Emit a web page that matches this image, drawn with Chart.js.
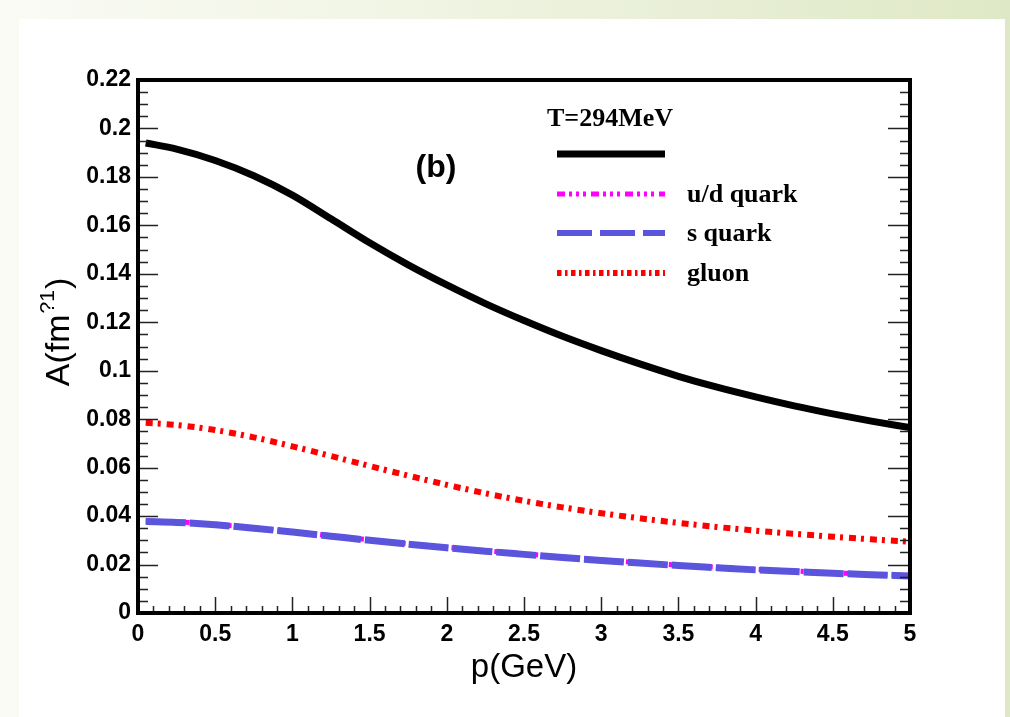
<!DOCTYPE html>
<html><head><meta charset="utf-8">
<script src="https://cdn.jsdelivr.net/npm/chart.js@4.4.0/dist/chart.umd.min.js"></script>
<style>
html,body{margin:0;padding:0;}
body{width:1010px;height:717px;overflow:hidden;position:relative;background:linear-gradient(90deg,#fafbf5 0%,#eff4e2 45%,#dfe8c6 100%);}
#panel{position:absolute;left:19px;top:19px;width:986px;height:698px;background:#fff;}
#wrap{position:absolute;left:0;top:0;width:1010px;height:717px;}
</style></head><body>
<div id="panel"></div>
<div id="wrap"><canvas id="c" width="1010" height="717"></canvas></div>
<script>
// ---- data ----
const pValues = [0.05,0.25,0.5,0.75,1,1.25,1.5,1.75,2,2.25,2.5,2.75,3,3.25,3.5,3.75,4,4.25,4.5,4.75,5];
const totalA  = [0.194,0.1915,0.1868,0.1805,0.1725,0.1627,0.1528,0.1437,0.1354,0.1277,0.1207,0.1142,0.1083,0.1028,0.0977,0.0932,0.0892,0.0855,0.0822,0.0792,0.0765];
const udQuarkA = [0.0380,0.0376,0.0366,0.0352,0.0336,0.0319,0.0302,0.0286,0.0271,0.0257,0.0244,0.0231,0.0219,0.0208,0.0198,0.0189,0.0180,0.0173,0.0166,0.0160,0.0155];
const sQuarkA  = [0.0378,0.0374,0.0364,0.0350,0.0334,0.0317,0.0300,0.0284,0.0269,0.0255,0.0242,0.0229,0.0217,0.0206,0.0196,0.0187,0.0178,0.0171,0.0164,0.0158,0.0153];
const gluonA   = [0.0785,0.0776,0.0755,0.0725,0.0688,0.0648,0.0607,0.0567,0.0529,0.0494,0.0463,0.0436,0.0412,0.0391,0.0372,0.0355,0.0340,0.0327,0.0315,0.0304,0.0294];
const legendTitle = 'T=294MeV';
const seriesLabels = ['', 'u/d quark', 's quark', 'gluon'];
const panelLabel = '(b)';
const xTitle = 'p(GeV)';
const yTitleMain = 'A(fm', yTitleSup = '?1', yTitleEnd = ')';
const xMin = 0, xMax = 5, xStep = 0.5, xMinorStep = 0.1;
const yMin = 0, yMax = 0.22, yStep = 0.02, yMinorStep = 0.005;

const SANS = '"Liberation Sans", Arial, Helvetica, sans-serif';
const SERIF = '"Liberation Serif", "Times New Roman", serif';
const fmt = v => String(parseFloat(Number(v).toFixed(3)));
const pts = arr => pValues.map((p, i) => ({x: p, y: arr[i]}));

const styles = [
  {color:'#000000', width:7, dash:[], legendDash:[]},
  {color:'#ff00ff', width:5, dash:[9,4,3,4,3,4,3,5], legendDash:[8,4,3,4,3,4,3,5]},
  {color:'#5b55dd', width:7, dash:[40,4], legendDash:[35,8]},
  {color:'#ff0000', width:6, dash:[7,5,3,6], legendDash:[4.5,3.5,2.5,3.5]}
];
const seriesData = [totalA, udQuarkA, sQuarkA, gluonA];
const drawOrder = [4, 2, 1, 3]; // lower = on top

const datasets = seriesData.map((arr, i) => ({
  label: seriesLabels[i] || legendTitle,
  data: pts(arr),
  borderColor: styles[i].color,
  borderWidth: styles[i].width,
  borderDash: styles[i].dash,
  borderCapStyle: 'butt',
  pointRadius: 0,
  fill: false,
  cubicInterpolationMode: 'monotone',
  order: drawOrder[i]
}));

const framePlugin = {
  id: 'frame',
  afterDatasetsDraw(chart) {
    const {ctx, chartArea: a, scales: {x, y}} = chart;
    ctx.save();
    ctx.strokeStyle = '#222';
    ctx.lineWidth = 1.5;
    ctx.beginPath();
    const nY = Math.round((yMax - yMin) / yMinorStep);
    for (let k = 0; k <= nY; k++) {
      const v = yMin + k * yMinorStep;
      const major = k % Math.round(yStep / yMinorStep) === 0;
      const py = Math.round(y.getPixelForValue(v)) + 0.5;
      const lenL = major ? 20 : 10, lenR = major ? 22 : 10;
      ctx.moveTo(a.left, py); ctx.lineTo(a.left + lenL, py);
      ctx.moveTo(a.right, py); ctx.lineTo(a.right - lenR, py);
    }
    const nX = Math.round((xMax - xMin) / xMinorStep);
    for (let k = 0; k <= nX; k++) {
      const v = xMin + k * xMinorStep;
      const major = k % Math.round(xStep / xMinorStep) === 0;
      const px = Math.round(x.getPixelForValue(v)) + 0.5;
      ctx.moveTo(px, a.bottom); ctx.lineTo(px, a.bottom - (major ? 16 : 7));
    }
    ctx.stroke();
    ctx.strokeStyle = '#000';
    ctx.lineWidth = 4;
    ctx.strokeRect(a.left, a.top, a.right - a.left, a.bottom - a.top);
    ctx.restore();
  },
  afterDraw(chart) {
    const {ctx, data} = chart;
    ctx.save();
    ctx.translate(57, 332);
    ctx.rotate(-Math.PI / 2);
    ctx.fillStyle = '#000';
    ctx.textBaseline = 'alphabetic';
    ctx.textAlign = 'left';
    const fMain = '34px ' + SANS, fSup = '21px ' + SANS;
    ctx.font = fMain; const w1 = ctx.measureText(yTitleMain).width; const w3 = ctx.measureText(yTitleEnd).width;
    ctx.font = fSup; const w2 = ctx.measureText(yTitleSup).width;
    let sx = -(w1 + w2 + w3 + 2) / 2;
    ctx.font = fMain; ctx.fillText(yTitleMain, sx, 12); sx += w1 + 1;
    ctx.font = fSup; ctx.fillText(yTitleSup, sx, -3); sx += w2 + 1;
    ctx.font = fMain; ctx.fillText(yTitleEnd, sx, 12);
    ctx.restore();

    ctx.save();
    ctx.fillStyle = '#000';
    ctx.font = 'bold 32px ' + SANS;
    ctx.textAlign = 'center'; ctx.textBaseline = 'middle';
    ctx.fillText(panelLabel, 436, 168);

    ctx.font = 'bold 26px ' + SERIF;
    ctx.textAlign = 'left';
    ctx.fillText(legendTitle, 547, 119);
    const rowsY = [154, 194, 233, 273];
    data.datasets.forEach((ds, i) => {
      const st = styles[i];
      ctx.beginPath();
      ctx.strokeStyle = st.color;
      ctx.lineWidth = i === 2 ? 6 : st.width;
      ctx.lineCap = 'butt';
      ctx.setLineDash(st.legendDash);
      ctx.moveTo(557, rowsY[i]); ctx.lineTo(665, rowsY[i]);
      ctx.stroke();
      ctx.setLineDash([]);
      if (seriesLabels[i]) {
        ctx.fillStyle = '#000';
        ctx.fillText(seriesLabels[i], 687, rowsY[i] + 1);
      }
    });
    ctx.restore();
  }
};

new Chart(document.getElementById('c'), {
  type: 'line',
  data: {datasets},
  plugins: [framePlugin],
  options: {
    responsive: false,
    animation: false,
    devicePixelRatio: 1,
    layout: {padding: {left: 0, top: 80, right: 100, bottom: 0}},
    plugins: {legend: {display: false}, tooltip: {enabled: false}},
    scales: {
      x: {
        type: 'linear', min: xMin, max: xMax,
        afterFit: s => { s.height = 104; },
        grid: {display: false, drawTicks: false, tickLength: 0}, border: {display: false},
        ticks: {stepSize: xStep, padding: 8, color: '#000', maxRotation: 0, autoSkip: false,
                font: {family: SANS, size: 23, weight: 'bold'}, callback: v => fmt(v)},
        title: {display: true, text: xTitle, color: '#000', font: {family: SANS, size: 33}, padding: {top: 0, bottom: 29}}
      },
      y: {
        type: 'linear', min: yMin, max: yMax,
        afterFit: s => { s.width = 138; },
        grid: {display: false, drawTicks: false, tickLength: 0}, border: {display: false},
        ticks: {stepSize: yStep, padding: 7, color: '#000', autoSkip: false,
                font: {family: SANS, size: 23, weight: 'bold'}, callback: v => fmt(v)}
      }
    }
  }
});
</script>
</body></html>
